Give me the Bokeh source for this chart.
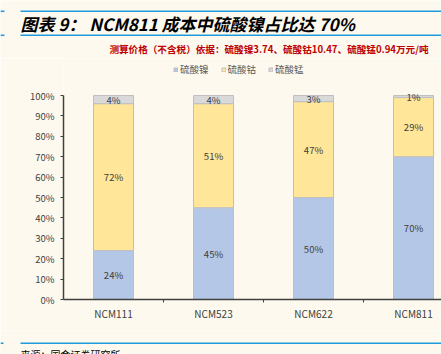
from bokeh.plotting import figure
from bokeh.layouts import column
from bokeh.models import (ColumnDataSource, FixedTicker, Label, Legend, LegendItem,
                          Range1d, CustomJSTickFormatter)
from bokeh.embed import file_html
from bokeh.resources import INLINE

categories = ["NCM111", "NCM523", "NCM622", "NCM811"]
nickel = [24, 45, 50, 70]
cobalt = [72, 51, 47, 29]
manganese = [4, 4, 3, 1]
series_names = ["硫酸镍", "硫酸钴", "硫酸锰"]
y_ticks = [0, 10, 20, 30, 40, 50, 60, 70, 80, 90, 100]

title_text = "图表 9：  NCM811 成本中硫酸镍占比达 70%"
subtitle_text = "测算价格（不含税）依据：硫酸镍3.74、硫酸钴10.47、硫酸锰0.94万元/吨"
source_text = "来源：国金证券研究所"

BG = "#FDF9EE"
BLUE = "#B4C7E7"
YELLOW = "#FFE699"
GRAY = "#D9D9D9"
LINE_BLUE = "#1E9BDB"
FONT = "Noto Sans CJK SC"

W = 441
HEAD_H = 58
FOOT_H = 24
MAIN_H = 354 - HEAD_H - FOOT_H      # 272
FRAME_BOTTOM_PAD = 31               # main frame spans page y 58..299
FRAME_H = MAIN_H - FRAME_BOTTOM_PAD  # 241
PX_PER_100 = 204                    # 0% at y=299, 100% at y=95


def blank_fig(h):
    f = figure(width=W, height=h, output_backend="svg", toolbar_location=None,
               x_range=Range1d(0, W), y_range=Range1d(h, 0),
               x_axis_type=None, y_axis_type=None, frame_align=False,
               min_border=0, min_border_left=0, min_border_right=0,
               min_border_top=0, min_border_bottom=0)
    f.grid.visible = False
    f.outline_line_color = None
    f.background_fill_color = BG
    f.border_fill_color = BG
    return f


# ---------------- header ----------------
head = blank_fig(HEAD_H)
for yy in (10.75, 34.75):
    head.segment(x0=20, y0=yy, x1=W, y1=yy, line_color=LINE_BLUE, line_width=1.5)
    head.segment(x0=0, y0=yy, x1=4, y1=yy, line_color=LINE_BLUE, line_width=1.5)
head.add_layout(Label(x=20, y=22.5, text=title_text, text_font=FONT,
                      text_font_size="17px", text_font_style="bold italic",
                      text_color="#000000", text_baseline="middle"))
head.add_layout(Label(x=428, y=48, text=subtitle_text, text_font=FONT,
                      text_font_size="9.6px", text_font_style="bold",
                      text_color="#C00000", text_align="right",
                      text_baseline="middle"))

# ---------------- main chart ----------------
x = [i + 0.5 for i in range(len(categories))]
n_bottom = [0] * len(categories)
n_top = nickel
c_bottom = nickel
c_top = [a + b for a, b in zip(nickel, cobalt)]
m_bottom = c_top
m_top = [a + b for a, b in zip(c_top, manganese)]

src = ColumnDataSource(dict(
    x=x, nb=n_bottom, nt=n_top, cb=c_bottom, ct=c_top, mb=m_bottom, mt=m_top,
    nmid=[(a + b) / 2 for a, b in zip(n_bottom, n_top)],
    cmid=[(a + b) / 2 for a, b in zip(c_bottom, c_top)],
    mmid=[(a + b) / 2 for a, b in zip(m_bottom, m_top)],
    nlab=[f"{v}%" for v in nickel],
    clab=[f"{v}%" for v in cobalt],
    mlab=[f"{v}%" for v in manganese],
))

p = figure(width=W, height=MAIN_H, output_backend="svg", toolbar_location=None,
           x_range=Range1d(0, (W - 63) / 100),
           y_range=Range1d(0, FRAME_H / PX_PER_100 * 100), frame_align=False,
           min_border_left=63, min_border_right=0, min_border_top=0,
           min_border_bottom=FRAME_BOTTOM_PAD)
p.background_fill_color = BG
p.border_fill_color = BG
p.outline_line_color = None
p.grid.visible = False

w = 0.4
r_n = p.vbar(x="x", bottom="nb", top="nt", width=w, source=src,
             fill_color=BLUE, line_color="#BFBFBF", line_width=1)
r_c = p.vbar(x="x", bottom="cb", top="ct", width=w, source=src,
             fill_color=YELLOW, line_color="#BFBFBF", line_width=1)
r_m = p.vbar(x="x", bottom="mb", top="mt", width=w, source=src,
             fill_color=GRAY, line_color="#BFBFBF", line_width=1)

for ycol, lcol in (("nmid", "nlab"), ("cmid", "clab"), ("mmid", "mlab")):
    p.text(x="x", y=ycol, text=lcol, source=src, text_align="center",
           text_baseline="middle", text_font_size="9.5px",
           text_color="#404040", text_font={"value": FONT})

# y axis
p.yaxis.ticker = FixedTicker(ticks=y_ticks)
p.yaxis.bounds = (0, 100)
p.yaxis.formatter = CustomJSTickFormatter(code="return tick + '%'")
p.yaxis.axis_line_color = "#404040"
p.yaxis.axis_line_width = 1.5
p.yaxis.major_tick_line_color = "#404040"
p.yaxis.major_tick_out = 3
p.yaxis.major_tick_in = 0
p.yaxis.minor_tick_line_color = None
p.yaxis.major_label_text_font = FONT
p.yaxis.major_label_text_font_size = "9.5px"
p.yaxis.major_label_text_color = "#404040"
p.yaxis.major_label_standoff = 6

# x axis
p.xaxis.ticker = FixedTicker(ticks=x, minor_ticks=[1, 2, 3])
p.xaxis.major_label_overrides = {v: c for v, c in zip(x, categories)}
p.xaxis.axis_line_color = "#404040"
p.xaxis.axis_line_width = 1.5
p.xaxis.major_tick_line_color = None
p.xaxis.minor_tick_line_color = "#404040"
p.xaxis.minor_tick_out = 3
p.xaxis.minor_tick_in = 0
p.xaxis.major_label_text_font = FONT
p.xaxis.major_label_text_font_size = "10px"
p.xaxis.major_label_text_color = "#404040"
p.xaxis.major_label_standoff = 0

# legend (top at page y ~64, inside the tall frame)
legend = Legend(items=[LegendItem(label=series_names[0], renderers=[r_n]),
                       LegendItem(label=series_names[1], renderers=[r_c]),
                       LegendItem(label=series_names[2], renderers=[r_m])],
                orientation="horizontal", location=(173 - 63, 299 - 64 - 12),
                glyph_width=5, glyph_height=5, label_height=12,
                label_text_font=FONT, label_text_font_size="9.5px",
                label_text_color="#595959", padding=0, margin=0, spacing=12,
                label_standoff=2, background_fill_alpha=0,
                border_line_color=None)
p.add_layout(legend, "center")

# ---------------- footer ----------------
foot = blank_fig(FOOT_H)
foot.segment(x0=20, y0=12.75, x1=W, y1=12.75, line_color=LINE_BLUE, line_width=1.5)
foot.segment(x0=0, y0=12.75, x1=3, y1=12.75, line_color=LINE_BLUE, line_width=1.5)
foot.add_layout(Label(x=20, y=16, text=source_text, text_font=FONT,
                      text_font_size="10px", text_color="#000000",
                      text_baseline="top"))

layout = column(head, p, foot, spacing=0)
open("out.html", "w").write(file_html(layout, INLINE))
